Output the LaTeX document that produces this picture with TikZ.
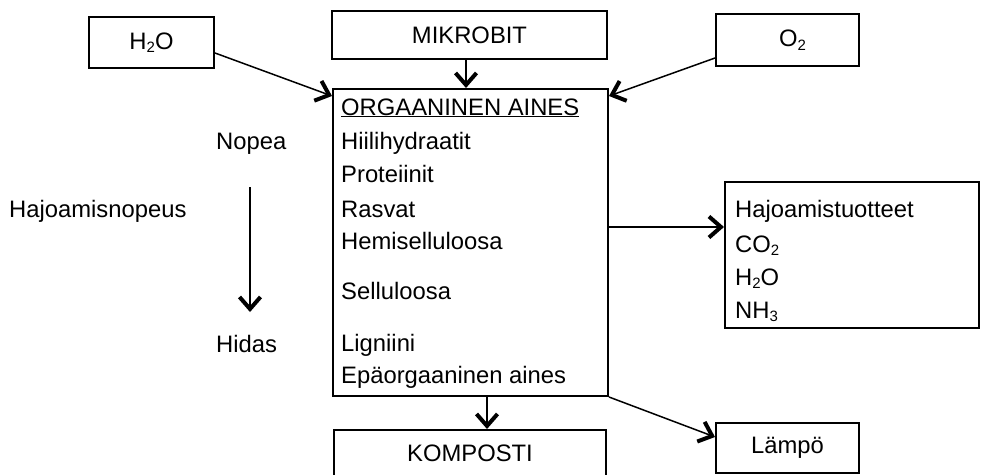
\documentclass[tikz,border=0pt]{standalone}
\usepackage{fontspec}
\setmainfont{Liberation Sans}
\usetikzlibrary{arrows.meta}

\tikzset{
  box/.style={draw, line width=2pt, inner sep=0pt},
  lbl/.style={inner sep=0pt, anchor=base west},
  flow/.style={line width=1.5pt,
    -{Straight Barb[length=12pt, width=21pt, line width=4pt]}},
}
\newcommand{\sub}[1]{\raisebox{-0.28ex}{\fontsize{15}{15}\selectfont #1}}

\begin{document}
\begin{tikzpicture}[x=1pt, y=-1pt, font=\fontsize{23.8}{28}\selectfont]
\useasboundingbox (0,0) rectangle (981,474);

% inputs
\node[box, minimum width=125pt, minimum height=51pt] (h2o) at (151.5,42.5) {H\sub{2}O};
\node[box, minimum width=275pt, minimum height=48pt] (mik) at (469.5,35) {MIKROBIT};
\node[box, minimum width=143pt, minimum height=52pt] (o2) at (787.5,40) {\hspace{10pt}O\sub{2}};

% organic matter
\node[box, minimum width=275pt, minimum height=307pt] (org) at (470.5,242.5) {};
\node[lbl] (t0) at (341,115) {\underline{ORGAANINEN AINES}};
\node[lbl] (t1) at (341,149) {Hiilihydraatit};
\node[lbl] (t2) at (341,182) {Proteiinit};
\node[lbl] (t3) at (341,217) {Rasvat};
\node[lbl] (t4) at (341,249) {Hemiselluloosa};
\node[lbl] (t5) at (341,299) {Selluloosa};
\node[lbl] (t6) at (341,351) {Ligniini};
\node[lbl] (t7) at (341,383) {Epäorgaaninen aines};

% decomposition speed scale
\node[lbl] (fast) at (216,149) {Nopea};
\node[lbl] (speed) at (9,217) {Hajoamisnopeus};
\node[lbl] (slow) at (216,352) {Hidas};
\coordinate (vtop) at (250,187);
\coordinate (vbot) at (250,312);

% products
\node[box, minimum width=254pt, minimum height=146pt] (prod) at (852,255) {};
\node[lbl] (p0) at (735,217) {Hajoamistuotteet};
\node[lbl] (p1) at (735,252) {CO\sub{2}};
\node[lbl] (p2) at (735,285) {H\sub{2}O};
\node[lbl] (p3) at (735,318) {NH\sub{3}};

% outputs
\node[box, minimum width=272pt, minimum height=47pt] (komp) at (470,453.5) {KOMPOSTI};
\node[box, minimum width=143pt, minimum height=50pt] (lampo) at (787.5,448) {Lämpö};

% connectors
\draw[flow] ([yshift=-10.5pt]h2o.east) -- ([yshift=-8pt]org.north west);
\draw[flow] ([yshift=-18pt]o2.west) -- ([yshift=-8pt]org.north east);
\draw[flow] ([xshift=-3.5pt]mik.south) -- ([xshift=-4.5pt]org.north);
\coordinate (pin) at ([yshift=28pt]prod.west);
\draw[flow] (org.east |- pin) -- (pin);
\draw[flow] ([xshift=16.5pt]org.south) -- ([xshift=16.5pt]org.south |- komp.north);
\draw[flow] (org.south east) -- ([yshift=11pt]lampo.west);
\draw[flow] (vtop) -- (vbot);
\end{tikzpicture}
\end{document}
